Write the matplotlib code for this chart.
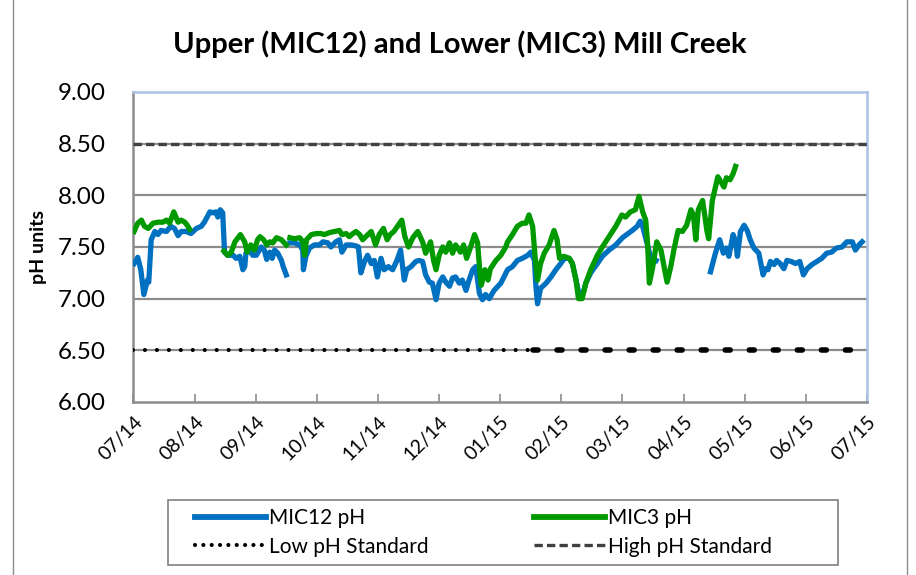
import numpy as np
import matplotlib.pyplot as plt
from matplotlib.lines import Line2D
from matplotlib.patches import Rectangle

plt.rcParams['font.family'] = ['Lato', 'DejaVu Sans']
plt.rcParams['lines.scale_dashes'] = False

# month labels (one tick per month, July 2014 to July 2015)
months = ["07/14", "08/14", "09/14", "10/14", "11/14", "12/14", "01/15",
          "02/15", "03/15", "04/15", "05/15", "06/15", "07/15"]

# time in months since 07/14, NaN breaks the line where data is missing
mic12_t = [0.01, 0.07, 0.12, 0.17, 0.23, 0.25, 0.29, 0.35, 0.40, 0.45, 0.54, 0.61,
           0.67, 0.73, 0.78, 0.86, 0.94, 1.03, 1.11, 1.16, 1.25, 1.30, 1.35, 1.38,
           1.42, 1.46, 1.49, 1.54, 1.63, 1.68, 1.74, 1.79, 1.82, 1.84, 1.90, 1.95,
           2.01, 2.09, 2.14, 2.18, 2.23, 2.27, 2.31, 2.36, 2.42, 2.45, 2.50, 2.53,
           2.56, 2.63, 2.72, 2.77, 2.78, 2.82, 2.88, 2.96, 3.04, 3.10, 3.18, 3.23,
           3.31, 3.37, 3.41, 3.48, 3.56, 3.64, 3.68, 3.72, 3.78, 3.83, 3.89, 3.94,
           3.99, 4.05, 4.10, 4.17, 4.24, 4.31, 4.37, 4.43, 4.47, 4.54, 4.62, 4.67,
           4.73, 4.78, 4.84, 4.89, 4.95, 5.00, 5.06, 5.11, 5.17, 5.22, 5.27, 5.33,
           5.38, 5.44, 5.49, 5.55, 5.60, 5.66, 5.71, 5.76, 5.82, 5.90, 6.01, 6.12,
           6.20, 6.28, 6.36, 6.45, 6.50, 6.56, 6.58, 6.61, 6.66, 6.75, 6.83, 6.91,
           6.99, 7.05, 7.13, 7.18, 7.24, 7.29, 7.34, 7.40, 7.48, 7.59, 7.67, 7.78,
           7.89, 8.00, 8.16, 8.24, 8.29, 8.33, 8.46, 8.55, 9.00,
           9.44, 9.52, 9.59, 9.65, 9.70, 9.74, 9.81, 9.85, 9.88, 9.93, 9.99, 10.04,
           10.09, 10.15, 10.23, 10.30, 10.34, 10.38, 10.42, 10.48, 10.52, 10.58,
           10.64, 10.69, 10.76, 10.83, 10.90, 10.96, 11.02, 11.10, 11.18, 11.26,
           11.34, 11.42, 11.50, 11.59, 11.67, 11.76, 11.81, 11.87, 11.92]
mic12_ph = [7.34, 7.40, 7.28, 7.04, 7.18, 7.16, 7.57, 7.65, 7.62, 7.66, 7.65, 7.70,
            7.68, 7.61, 7.65, 7.65, 7.63, 7.68, 7.70, 7.74, 7.84, 7.83, 7.84, 7.79,
            7.86, 7.83, 7.45, 7.42, 7.42, 7.39, 7.41, 7.28, 7.31, 7.44, 7.47, 7.42,
            7.42, 7.50, 7.47, 7.38, 7.45, 7.39, 7.47, 7.44, 7.37, 7.31, 7.23, np.nan,
            7.54, 7.54, 7.52, 7.47, 7.28, 7.41, 7.49, 7.52, 7.52, 7.55, 7.54, 7.50,
            7.55, 7.57, 7.45, 7.52, 7.52, 7.51, 7.50, 7.25, 7.36, 7.42, 7.34, 7.37,
            7.21, 7.39, 7.28, 7.31, 7.28, 7.37, 7.47, 7.18, 7.28, 7.31, 7.36, 7.37,
            7.36, 7.23, 7.16, 7.15, 6.99, 7.15, 7.21, 7.16, 7.12, 7.20, 7.21, 7.15,
            7.18, 7.08, 7.18, 7.28, 7.31, 7.05, 6.99, 7.04, 7.00, 7.08, 7.15, 7.28,
            7.31, 7.37, 7.39, 7.42, 7.45, 7.37, 7.15, 6.95, 7.10, 7.15, 7.21, 7.28,
            7.34, 7.39, 7.39, 7.34, 7.18, 7.04, 7.02, 7.15, 7.25, 7.34, 7.41, 7.47,
            7.52, 7.59, 7.66, 7.70, 7.75, 7.70, 7.40, 7.37, np.nan,
            7.26, 7.44, 7.57, 7.44, 7.49, 7.41, 7.62, 7.55, 7.41, 7.65, 7.71, 7.66,
            7.57, 7.49, 7.44, 7.23, 7.29, 7.28, 7.36, 7.33, 7.37, 7.34,
            7.29, 7.37, 7.36, 7.34, 7.36, 7.23, 7.29, 7.33, 7.36, 7.39,
            7.44, 7.45, 7.49, 7.50, 7.55, 7.55, 7.47, 7.52, 7.55]

mic3_t = [0.01, 0.07, 0.13, 0.18, 0.24, 0.32, 0.40, 0.48, 0.54, 0.59, 0.66, 0.73,
          0.78, 0.84, 0.88, 0.92, 1.20,
          1.48, 1.54, 1.60, 1.66, 1.75, 1.82, 1.86, 1.92, 1.98, 2.03, 2.07, 2.13,
          2.18, 2.23, 2.28, 2.34, 2.42, 2.50, 2.53,
          2.56, 2.63, 2.72, 2.77, 2.80, 2.83, 2.91, 2.99, 3.07, 3.12, 3.21, 3.29,
          3.37, 3.41, 3.48, 3.53, 3.59, 3.64, 3.70, 3.75, 3.80, 3.89, 3.96, 4.02,
          4.09, 4.15, 4.20, 4.26, 4.32, 4.39, 4.44, 4.50, 4.57, 4.65, 4.73, 4.78,
          4.86, 4.91, 4.95, 5.00, 5.06, 5.11, 5.17, 5.22, 5.27, 5.35, 5.40, 5.45,
          5.51, 5.58, 5.63, 5.66, 5.69, 5.75, 5.80, 5.84, 5.93, 6.01, 6.09, 6.12,
          6.20, 6.28, 6.36, 6.42, 6.47, 6.53, 6.57, 6.61, 6.66, 6.72, 6.80, 6.88,
          6.93, 6.97, 7.04, 7.13, 7.18, 7.24, 7.28, 7.34, 7.40, 7.48, 7.59, 7.67,
          7.78, 7.89, 7.99, 8.05, 8.13, 8.21, 8.27, 8.33, 8.38, 8.41, 8.44, 8.49,
          8.56, 8.63, 8.69, 8.73, 8.79, 8.84, 8.91, 8.98, 9.05, 9.12, 9.16, 9.20,
          9.24, 9.31, 9.34, 9.38, 9.41, 9.47, 9.52, 9.56, 9.61, 9.66, 9.70, 9.76,
          9.81, 9.85]
mic3_ph = [7.65, 7.73, 7.76, 7.70, 7.68, 7.73, 7.74, 7.74, 7.76, 7.73, 7.84, 7.74,
           7.76, 7.74, 7.71, 7.67, np.nan,
           7.46, 7.42, 7.45, 7.55, 7.62, 7.55, 7.45, 7.52, 7.47, 7.57, 7.60, 7.57,
           7.52, 7.55, 7.54, 7.59, 7.57, 7.52, np.nan,
           7.59, 7.58, 7.59, 7.55, 7.42, 7.57, 7.62, 7.63, 7.63, 7.62, 7.64, 7.65,
           7.66, 7.62, 7.63, 7.60, 7.63, 7.65, 7.62, 7.57, 7.60, 7.65, 7.52, 7.62,
           7.68, 7.57, 7.62, 7.65, 7.70, 7.76, 7.60, 7.50, 7.59, 7.65, 7.55, 7.44,
           7.55, 7.37, 7.28, 7.42, 7.50, 7.45, 7.54, 7.44, 7.52, 7.45, 7.52, 7.39,
           7.49, 7.62, 7.54, 7.31, 7.13, 7.28, 7.18, 7.29, 7.37, 7.42, 7.50, 7.55,
           7.62, 7.70, 7.73, 7.73, 7.81, 7.70, 7.41, 7.18, 7.34, 7.44, 7.52, 7.66,
           7.57, 7.39, 7.41, 7.39, 7.34, 7.18, 7.00, 7.00, 7.15, 7.28, 7.42, 7.50,
           7.60, 7.70, 7.81, 7.79, 7.84, 7.86, 7.99, 7.84, 7.76, 7.54, 7.15, 7.29,
           7.55, 7.47, 7.28, 7.16, 7.31, 7.47, 7.66, 7.65, 7.71, 7.86, 7.81, 7.57,
           7.86, 7.95, 7.83, 7.66, 7.58, 7.95, 8.08, 8.18, 8.13, 8.08, 8.17, 8.15,
           8.21, 8.28]

low_std = 6.5
high_std = 8.5
low_std_t = [0, 6.53, 12]   # dotted to 6.53, heavier dashes after

blue = '#0070C0'
green = '#009A00'
grid_grey = '#8C8C8C'

fig = plt.figure(figsize=(9.16, 5.75), dpi=100)
ax = fig.add_axes([0.1457, 0.3009, 0.8008, 0.5391])

ax.set_xlim(0, 12)
ax.set_ylim(6.0, 9.0)
ax.set_yticks(np.arange(6.0, 9.01, 0.5))
ax.set_yticklabels([f"{v:.2f}" for v in np.arange(6.0, 9.01, 0.5)])
ax.set_xticks(range(len(months)))
ax.set_xticklabels(months, rotation=45, ha='right', va='top', rotation_mode='anchor')

for y in [6.5, 7.0, 7.5, 8.0, 8.5]:
    ax.axhline(y, color=grid_grey, lw=1.6, zorder=1)

ax.tick_params(axis='y', length=0, pad=20, labelsize=17.5)
ax.tick_params(axis='x', direction='in', length=6, width=1.2, color=grid_grey,
               pad=8, labelsize=14)

for side in ['left', 'bottom']:
    ax.spines[side].set_color(grid_grey)
    ax.spines[side].set_linewidth(1.8)
for side in ['top', 'right']:
    ax.spines[side].set_color('#A9C1E6')
    ax.spines[side].set_linewidth(1.8)

# standards
ax.plot([0, 12], [high_std, high_std], color='#404040', lw=2.4,
        dashes=(6, 3), zorder=3)
ax.plot(low_std_t[:2], [low_std, low_std], color='black', lw=3.0,
        dashes=(0.01, 8.6), dash_capstyle='round', zorder=3)
ax.plot(low_std_t[1:], [low_std, low_std], color='black', lw=4.0,
        dashes=(3.6, 13.7), dash_capstyle='round', zorder=3)

# measured pH
ax.plot(mic12_t, mic12_ph, color=blue, lw=3.8, solid_joinstyle='round', zorder=4)
ax.plot(mic3_t, mic3_ph, color=green, lw=3.8, solid_joinstyle='round', zorder=5)

ax.set_ylabel("pH units", fontsize=14, fontweight='bold', labelpad=8)
fig.suptitle("Upper (MIC12) and Lower (MIC3) Mill Creek", x=0.502, y=0.947,
             fontsize=21, fontweight='bold')

handles = [
    Line2D([], [], color=blue, lw=4.2),
    Line2D([], [], color='black', lw=3, dashes=(0.01, 6), dash_capstyle='round'),
    Line2D([], [], color=green, lw=4.2),
    Line2D([], [], color='#404040', lw=2.4, dashes=(6, 3)),
]
labels = ["MIC12 pH", "Low pH Standard", "MIC3 pH", "High pH Standard"]
leg = fig.legend(handles, labels, ncol=2, loc='center', bbox_to_anchor=(0.5279, 0.0739),
                 fontsize=15, frameon=False,
                 handlelength=3.4, handletextpad=0.15, columnspacing=5.07,
                 borderpad=0.3, labelspacing=0.4)

# legend outline
fig.add_artist(Rectangle((168 / 916, 1 - 565 / 575), 670 / 916, 65 / 575,
                         transform=fig.transFigure, fill=False,
                         edgecolor='#808080', lw=1.2))

# chart area outline
fig.add_artist(Rectangle((13 / 916, -0.01), 894 / 916, 1.05, transform=fig.transFigure,
                         fill=False, edgecolor='#8C8C8C', lw=1.0))

fig.savefig("out.png", dpi=100)
